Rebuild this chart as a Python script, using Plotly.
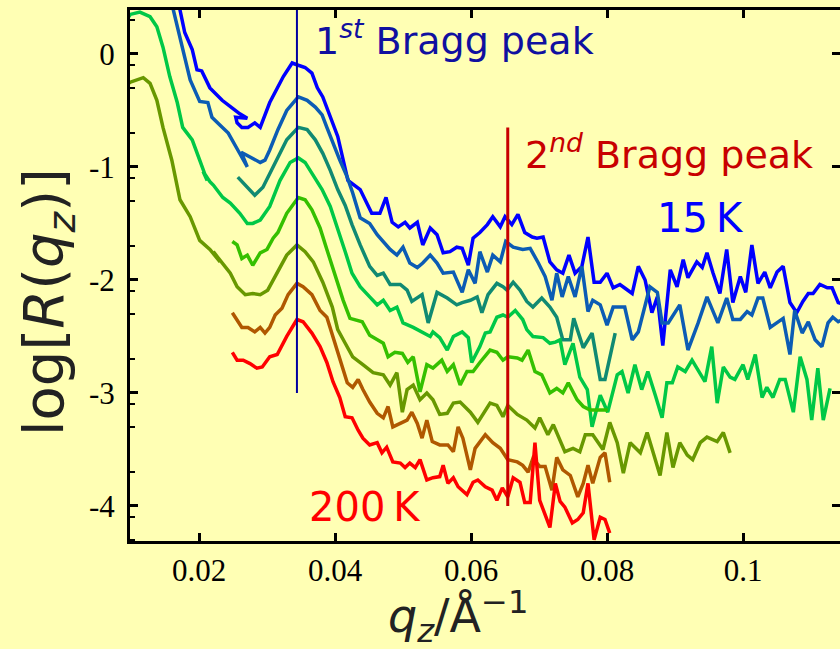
import numpy as np
import plotly.graph_objects as go

# Reflectivity curves log10 R(q_z), from 15 K (top) to 200 K (bottom)
q_15K = [0.0166,0.0172,0.0179,0.0190,0.0197,0.0204,0.0216,0.0234,0.0249,0.0260,0.0271,0.0254,0.0256,0.0263,0.0272,0.0282,0.0290,0.0304,0.0324,0.0337,
         0.0346,0.0356,0.0366,0.0374,0.0382,0.0393,0.0404,0.0419,0.0437,0.0454,0.0466,0.0475,0.0484,0.0493,0.0503,0.0510,0.0521,0.0529,0.0540,0.0550,
         0.0559,0.0569,0.0579,0.0587,0.0596,0.0603,0.0613,0.0624,0.0632,0.0643,0.0650,0.0660,0.0669,0.0679,0.0690,0.0697,0.0706,0.0716,0.0726,0.0735,
         0.0744,0.0753,0.0763,0.0772,0.0781,0.0790,0.0800,0.0809,0.0819,0.0828,0.0837,0.0846,0.0856,0.0866,0.0874,0.0882,0.0893,0.0903,0.0912,0.0919,
         0.0932,0.0940,0.0947,0.0956,0.0966,0.0976,0.0985,0.0996,0.1004,0.1013,0.1022,0.1032,0.1040,0.1050,0.1059,0.1069,0.1079,0.1088,0.1096,0.1103,
         0.1113,0.1124,0.1131,0.1140,0.1150]
r_15K = [0.52,0.39,0.19,0.04,-0.14,-0.15,-0.30,-0.41,-0.48,-0.53,-0.57,-0.56,-0.61,-0.65,-0.65,-0.61,-0.65,-0.43,-0.20,-0.08,
         -0.10,-0.12,-0.17,-0.30,-0.38,-0.56,-0.73,-1.12,-1.20,-1.41,-1.41,-1.27,-1.49,-1.53,-1.49,-1.54,-1.49,-1.69,-1.54,-1.60,
         -1.76,-1.75,-1.71,-1.72,-1.87,-1.63,-1.58,-1.51,-1.44,-1.53,-1.44,-1.51,-1.42,-1.58,-1.62,-1.63,-1.62,-1.84,-1.91,-1.94,
         -1.78,-1.94,-1.88,-1.62,-2.02,-2.02,-1.94,-2.07,-2.04,-2.08,-2.12,-1.88,-2.00,-2.29,-2.15,-2.58,-1.91,-2.06,-1.82,-1.98,
         -1.84,-1.89,-1.76,-1.94,-2.12,-1.73,-2.20,-1.97,-2.11,-1.69,-2.03,-1.93,-2.07,-1.93,-1.88,-2.20,-2.29,-2.19,-2.12,-2.12,
         -2.04,-2.07,-2.07,-2.20,-2.22]

q_40K = [0.0157,0.0162,0.0172,0.0179,0.0187,0.0201,0.0213,0.0219,0.0231,0.0243,0.0257,0.0271,0.0262,0.0268,0.0275,0.0282,0.0290,0.0297,0.0304,0.0316,
         0.0329,0.0346,0.0359,0.0371,0.0381,0.0388,0.0397,0.0407,0.0418,0.0426,0.0437,0.0451,0.0462,0.0471,0.0481,0.0491,0.0500,0.0510,0.0521,0.0529,
         0.0540,0.0550,0.0559,0.0574,0.0587,0.0596,0.0606,0.0613,0.0624,0.0632,0.0643,0.0651,0.0662,0.0676,0.0687,0.0699,0.0709,0.0719,0.0726,0.0734,
         0.0743,0.0753,0.0763,0.0772,0.0779,0.0790,0.0800,0.0809,0.0826,0.0837,0.0846,0.0863,0.0874,0.0881,0.0890,0.0907,0.0919,0.0934,0.0947,0.0963,
         0.0976,0.0985,0.0996,0.1006,0.1013,0.1022,0.1029,0.1040,0.1059,0.1069,0.1076,0.1087,0.1096,0.1106,0.1116,0.1125,0.1132,0.1140,0.1150]
r_40K = [0.52,0.39,0.12,-0.03,-0.23,-0.42,-0.43,-0.56,-0.63,-0.70,-0.85,-1.00,-0.87,-0.89,-0.91,-0.94,-0.96,-0.94,-0.85,-0.67,
         -0.50,-0.38,-0.41,-0.47,-0.54,-0.65,-0.79,-0.94,-1.09,-1.23,-1.45,-1.50,-1.60,-1.66,-1.73,-1.78,-1.71,-1.85,-1.89,-1.85,
         -1.78,-1.85,-1.94,-1.93,-2.11,-1.91,-2.03,-1.75,-1.93,-1.78,-1.84,-1.66,-1.71,-1.73,-1.72,-1.85,-1.97,-2.18,-1.94,-2.15,
         -1.97,-2.15,-1.88,-2.28,-2.18,-2.22,-2.40,-2.24,-2.24,-2.53,-2.46,-2.06,-2.11,-2.38,-2.38,-2.22,-2.62,-2.38,-2.15,-2.38,
         -2.16,-2.35,-2.35,-2.28,-2.31,-2.16,-2.16,-2.42,-2.34,-2.66,-2.27,-2.47,-2.37,-2.53,-2.59,-2.38,-2.33,-2.37,-2.34]

q_60K = [0.0257,0.0271,0.0282,0.0294,0.0309,0.0329,0.0346,0.0359,0.0371,0.0382,0.0393,0.0404,0.0415,0.0425,0.0437,0.0451,0.0462,0.0471,0.0481,0.0496,
         0.0506,0.0513,0.0528,0.0537,0.0550,0.0565,0.0579,0.0587,0.0599,0.0609,0.0616,0.0625,0.0638,0.0647,0.0653,0.0662,0.0672,0.0682,0.0691,0.0704,
         0.0716,0.0726,0.0735,0.0746,0.0751,0.0765,0.0778,0.0790,0.0797,0.0812]
r_60K = [-1.09,-1.18,-1.25,-1.18,-1.00,-0.76,-0.65,-0.67,-0.76,-0.88,-1.03,-1.20,-1.34,-1.51,-1.69,-1.88,-1.96,-1.94,-2.04,-2.04,
         -2.09,-2.19,-2.13,-2.38,-2.11,-2.16,-2.22,-2.20,-2.18,-2.15,-2.29,-2.13,-2.03,-2.06,-2.09,-2.02,-2.09,-2.19,-2.24,-2.16,
         -2.24,-2.33,-2.53,-2.53,-2.34,-2.60,-2.47,-2.88,-2.88,-2.47]

q_80K = [0.0091,0.0099,0.0113,0.0128,0.0138,0.0147,0.0157,0.0168,0.0176,0.0190,0.0201,0.0212,0.0206,0.0216,0.0221,0.0235,0.0246,0.0260,0.0271,0.0279,
         0.0290,0.0304,0.0319,0.0334,0.0346,0.0356,0.0368,0.0381,0.0393,0.0404,0.0415,0.0425,0.0437,0.0451,0.0462,0.0471,0.0481,0.0491,0.0500,0.0515,
         0.0529,0.0540,0.0544,0.0554,0.0565,0.0574,0.0587,0.0596,0.0601,0.0613,0.0621,0.0628,0.0638,0.0647,0.0654,0.0665,0.0676,0.0682,0.0691,0.0706,
         0.0716,0.0724,0.0731,0.0738,0.0750,0.0760,0.0771,0.0778,0.0790,0.0801,0.0815,0.0822,0.0831,0.0841,0.0851,0.0860,0.0871,0.0881,0.0888,0.0896,
         0.0904,0.0915,0.0925,0.0934,0.0944,0.0954,0.0962,0.0971,0.0981,0.0988,0.1000,0.1007,0.1018,0.1028,0.1035,0.1044,0.1054,0.1062,0.1074,0.1084,
         0.1094,0.1101,0.1110,0.1118,0.1128]
r_80K = [0.28,0.35,0.37,0.33,0.24,0.06,-0.20,-0.43,-0.65,-0.76,-0.94,-1.12,-1.04,-1.13,-1.16,-1.27,-1.32,-1.41,-1.50,-1.50,
         -1.47,-1.35,-1.12,-0.96,-0.92,-0.96,-1.07,-1.20,-1.35,-1.54,-1.75,-1.94,-2.06,-2.15,-2.22,-2.18,-2.27,-2.24,-2.38,-2.42,
         -2.46,-2.50,-2.46,-2.51,-2.62,-2.50,-2.46,-2.51,-2.73,-2.59,-2.47,-2.46,-2.33,-2.31,-2.33,-2.27,-2.35,-2.44,-2.50,-2.51,
         -2.56,-2.55,-2.53,-2.75,-2.56,-2.86,-2.97,-3.30,-3.02,-3.17,-2.84,-2.81,-3.00,-2.75,-2.97,-2.81,-3.02,-3.22,-2.91,-2.91,
         -2.77,-2.81,-2.71,-2.80,-2.90,-2.59,-3.09,-2.77,-2.86,-2.88,-2.75,-2.88,-2.66,-3.04,-2.95,-3.04,-2.88,-2.88,-3.17,-2.68,
         -2.88,-3.24,-2.78,-3.24,-2.96]

q_100K = [0.0249,0.0256,0.0263,0.0271,0.0279,0.0290,0.0300,0.0309,0.0316,0.0329,0.0346,0.0356,0.0366,0.0378,0.0388,0.0400,0.0412,0.0422,0.0429,0.0440,
          0.0451,0.0462,0.0471,0.0478,0.0488,0.0499,0.0507,0.0515,0.0525,0.0535,0.0544,0.0557,0.0565,0.0574,0.0584,0.0594,0.0603,0.0613,0.0628,0.0638,
          0.0647,0.0654,0.0668,0.0675,0.0684,0.0694,0.0704,0.0716,0.0726,0.0735,0.0743,0.0756,0.0765,0.0775,0.0785,0.0801]
r_100K = [-1.66,-1.69,-1.81,-1.78,-1.87,-1.76,-1.73,-1.63,-1.58,-1.41,-1.27,-1.29,-1.38,-1.54,-1.73,-1.96,-2.18,-2.34,-2.35,-2.37,
          -2.49,-2.53,-2.56,-2.68,-2.64,-2.65,-2.73,-2.68,-2.99,-2.75,-2.78,-2.71,-2.81,-2.75,-2.93,-2.81,-2.81,-2.73,-2.62,-2.64,
          -2.71,-2.68,-2.69,-2.71,-2.62,-2.81,-2.84,-3.00,-2.96,-3.00,-2.91,-3.06,-3.12,-3.15,-3.15,-3.15]

q_130K = [0.0093,0.0099,0.0118,0.0128,0.0138,0.0147,0.0160,0.0172,0.0187,0.0201,0.0216,0.0231,0.0221,0.0234,0.0246,0.0256,0.0268,0.0279,0.0290,0.0301,
          0.0315,0.0329,0.0344,0.0356,0.0368,0.0382,0.0396,0.0404,0.0415,0.0426,0.0441,0.0456,0.0471,0.0481,0.0491,0.0499,0.0506,0.0515,0.0525,0.0535,
          0.0544,0.0554,0.0565,0.0574,0.0584,0.0599,0.0610,0.0618,0.0628,0.0638,0.0647,0.0654,0.0668,0.0682,0.0694,0.0701,0.0713,0.0721,0.0738,0.0750,
          0.0760,0.0768,0.0779,0.0794,0.0804,0.0815,0.0824,0.0834,0.0849,0.0859,0.0868,0.0878,0.0888,0.0897,0.0907,0.0918,0.0926,0.0937,0.0947,0.0962,
          0.0971,0.0981]
r_130K = [-0.27,-0.25,-0.21,-0.26,-0.41,-0.65,-0.94,-1.29,-1.44,-1.65,-1.73,-1.84,-1.75,-1.85,-1.94,-2.06,-2.13,-2.12,-2.13,-2.09,
          -1.93,-1.78,-1.69,-1.75,-1.84,-2.02,-2.24,-2.44,-2.56,-2.68,-2.75,-2.82,-2.84,-2.93,-2.82,-3.17,-2.97,-2.93,-3.06,-3.00,
          -3.06,-3.19,-3.18,-3.09,-3.08,-3.17,-3.26,-3.18,-3.09,-3.11,-3.21,-3.11,-3.19,-3.24,-3.31,-3.22,-3.37,-3.28,-3.52,-3.49,
          -3.52,-3.37,-3.37,-3.50,-3.26,-3.44,-3.71,-3.44,-3.53,-3.35,-3.53,-3.73,-3.35,-3.66,-3.44,-3.55,-3.59,-3.44,-3.39,-3.43,
          -3.35,-3.53]

q_160K = [0.0249,0.0263,0.0272,0.0282,0.0290,0.0297,0.0304,0.0312,0.0322,0.0331,0.0344,0.0353,0.0366,0.0378,0.0388,0.0397,0.0407,0.0418,0.0426,0.0434,
          0.0441,0.0451,0.0462,0.0471,0.0478,0.0485,0.0499,0.0506,0.0513,0.0521,0.0528,0.0535,0.0543,0.0554,0.0566,0.0574,0.0581,0.0588,0.0599,0.0606,
          0.0621,0.0632,0.0643,0.0654,0.0668,0.0676,0.0684,0.0691,0.0701,0.0709,0.0719,0.0726,0.0735,0.0746,0.0757,0.0765,0.0772,0.0779,0.0790,0.0797,
          0.0804]
r_160K = [-2.29,-2.42,-2.42,-2.46,-2.42,-2.47,-2.42,-2.31,-2.25,-2.13,-2.03,-2.06,-2.13,-2.27,-2.33,-2.50,-2.68,-2.91,-2.95,-2.88,
          -2.97,-3.08,-3.18,-3.22,-3.12,-3.30,-3.26,-3.24,-3.17,-3.27,-3.40,-3.24,-3.43,-3.46,-3.46,-3.52,-3.30,-3.40,-3.68,-3.49,
          -3.37,-3.44,-3.49,-3.59,-3.61,-3.64,-3.70,-3.58,-3.65,-3.65,-3.86,-3.57,-3.68,-3.73,-3.92,-3.80,-3.64,-3.80,-3.57,-3.53,
          -3.79]

q_200K = [0.0249,0.0256,0.0265,0.0275,0.0285,0.0293,0.0304,0.0315,0.0329,0.0344,0.0353,0.0366,0.0378,0.0388,0.0397,0.0407,0.0415,0.0425,0.0434,0.0441,
          0.0451,0.0462,0.0469,0.0476,0.0485,0.0496,0.0503,0.0510,0.0518,0.0525,0.0535,0.0544,0.0554,0.0559,0.0566,0.0574,0.0581,0.0594,0.0603,0.0610,
          0.0621,0.0631,0.0638,0.0646,0.0654,0.0662,0.0672,0.0679,0.0687,0.0694,0.0701,0.0716,0.0724,0.0731,0.0738,0.0749,0.0757,0.0765,0.0772,0.0781,
          0.0790,0.0797,0.0804]
r_200K = [-2.64,-2.71,-2.71,-2.74,-2.78,-2.77,-2.68,-2.66,-2.50,-2.35,-2.37,-2.47,-2.59,-2.73,-2.90,-3.04,-3.21,-3.22,-3.33,-3.40,
          -3.46,-3.44,-3.53,-3.48,-3.61,-3.62,-3.66,-3.62,-3.66,-3.59,-3.77,-3.75,-3.74,-3.64,-3.80,-3.75,-3.83,-3.90,-3.79,-3.77,
          -3.83,-3.86,-3.95,-3.84,-3.92,-3.75,-3.79,-3.97,-3.97,-3.44,-3.95,-4.19,-3.80,-3.96,-4.01,-4.15,-4.12,-4.06,-3.80,-4.30,
          -4.10,-4.12,-4.24]

series = [
    (q_15K, r_15K, "#0000FF"),
    (q_40K, r_40K, "#0C5CB4"),
    (q_60K, r_60K, "#108A72"),
    (q_80K, r_80K, "#00C846"),
    (q_100K, r_100K, "#35C000"),
    (q_130K, r_130K, "#689800"),
    (q_160K, r_160K, "#B05800"),
    (q_200K, r_200K, "#FF0000"),
]
for q, r, _ in series:
    assert len(q) == len(r)

# Bragg peak markers: position and vertical extent
bragg1_q, bragg1_span = 0.0344, [0.39, -3.0]
bragg2_q, bragg2_span = 0.0654, [-0.65, -4.0]

x_ticks = [0.02, 0.04, 0.06, 0.08, 0.1]
x_labels = ["0.02", "0.04", "0.06", "0.08", "0.1"]
y_ticks = [-4, -3, -2, -1, 0]
y_labels = ["-4", "-3", "-2", "-1", "0"]
y_minor = [d + np.log10(m) for d in range(-5, 1) for m in (2, 5, 8)]

fig = go.Figure()
for q, r, c in series:
    fig.add_trace(go.Scatter(x=q, y=r, mode="lines", line=dict(color=c, width=3.5),
                             showlegend=False, hoverinfo="skip"))

fig.add_trace(go.Scatter(x=[bragg1_q, bragg1_q], y=bragg1_span, mode="lines",
                         line=dict(color="#0000A0", width=2), showlegend=False))
fig.add_trace(go.Scatter(x=[bragg2_q, bragg2_q], y=bragg2_span, mode="lines",
                         line=dict(color="#C80000", width=3), showlegend=False))
# carrier trace for the right-hand tick axis
fig.add_trace(go.Scatter(x=[None], y=[None], yaxis="y2", showlegend=False, hoverinfo="skip"))

sans = "DejaVu Sans"
fig.add_annotation(x=0.0368, y=0.14, xref="x", yref="y", xanchor="left", yanchor="middle",
                   text="1<sup><i>st</i></sup> Bragg peak", showarrow=False,
                   font=dict(family=sans, size=38, color="#1010A0"))
fig.add_annotation(x=0.0676, y=-0.87, xref="x", yref="y", xanchor="left", yanchor="middle",
                   text="2<sup><i>nd</i></sup> Bragg peak", showarrow=False,
                   font=dict(family=sans, size=38, color="#C80000"))
fig.add_annotation(x=0.0938, y=-1.45, xref="x", yref="y", xanchor="center", yanchor="middle",
                   text="15\u2009K", showarrow=False, font=dict(family=sans, size=40, color="#0000FF"))
fig.add_annotation(x=0.0444, y=-4.01, xref="x", yref="y", xanchor="center", yanchor="middle",
                   text="200\u2009K", showarrow=False, font=dict(family=sans, size=40, color="#FF0000"))

# axis titles
fig.add_annotation(x=0.463, y=-0.143, xref="paper", yref="paper", xanchor="center", yanchor="middle",
                   text="<i>q</i><sub><i>z</i></sub>/Å<sup>−1</sup>", showarrow=False,
                   font=dict(family=sans, size=46, color="#222222"))
fig.add_annotation(x=-0.117, y=0.45, xref="paper", yref="paper", xanchor="center", yanchor="middle",
                   text="log[<i>R</i>(<i>q</i><sub><i>z</i></sub>)]", textangle=-90, showarrow=False,
                   font=dict(family=sans, size=56, color="#222222"))

bg = "#FFFFB4"
tickfont = dict(family="Liberation Serif", size=31, color="black")
fig.update_layout(
    width=840, height=649,
    margin=dict(l=130, r=0, t=10, b=108),
    paper_bgcolor=bg, plot_bgcolor=bg,
    xaxis=dict(range=[0.00985, 0.11426], tickvals=x_ticks, ticktext=x_labels,
               ticks="inside", ticklen=8, tickwidth=3, tickcolor="black",
               showline=True, linewidth=3, linecolor="black", mirror="ticks",
               showgrid=False, zeroline=False, tickfont=tickfont, ticklabelstandoff=0),
    yaxis=dict(range=[-4.31, 0.389], tickvals=y_ticks, ticktext=y_labels,
               ticks="inside", ticklen=8, tickwidth=3, tickcolor="black",
               showline=True, linewidth=3, linecolor="black", mirror=False,
               minor=dict(tickmode="array", tickvals=y_minor, ticks="inside", ticklen=5,
                          tickwidth=2, tickcolor="black"),
               showgrid=False, zeroline=False, tickfont=tickfont, ticklabelstandoff=6),
    yaxis2=dict(range=[-4.31, 0.389], overlaying="y", side="right", tickvals=y_ticks,
                ticks="inside", ticklen=8, tickwidth=3, tickcolor="black",
                showticklabels=False, showline=False, showgrid=False, zeroline=False),
)

fig.write_html("out.html")
